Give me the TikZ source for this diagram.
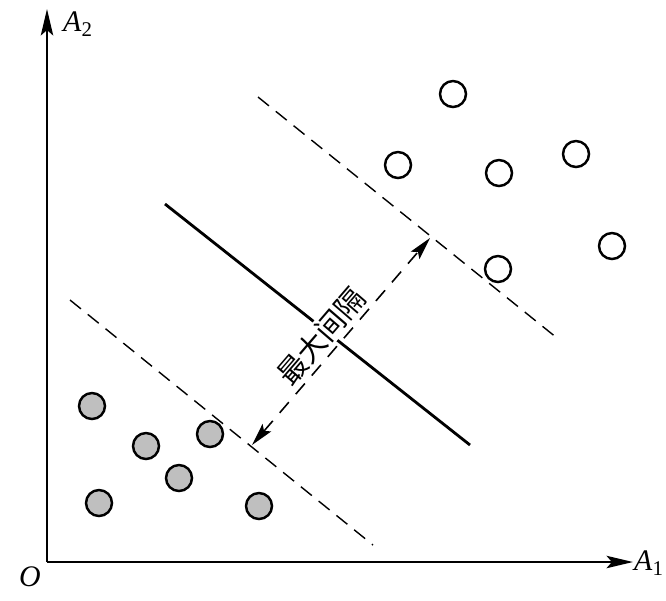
\documentclass[tikz,border=0pt]{standalone}
\usepackage{fontspec}
\setmainfont{Liberation Serif}
\newfontfamily\cjk{Noto Sans CJK SC}
\usetikzlibrary{arrows.meta}
\tikzset{svmpanel/.style={
  x=0.02cm, y=-0.02cm,
  axis/.style={line width=1.5pt, -{Stealth[length=15pt,width=7pt,inset=3pt]}},
  hyper/.style={line width=1.6pt},
  margin/.style={line width=0.8pt, dash pattern=on 8pt off 5pt},
  gap/.style={line width=0.9pt, dash pattern=on 8pt off 6pt,
    {Stealth[length=13pt,width=6.5pt,inset=2.5pt]}-{Stealth[length=13pt,width=6.5pt,inset=2.5pt]}},
  possample/.style={circle, draw, line width=1.4pt, minimum size=0.52cm, inner sep=0pt},
  negsample/.style={possample, fill=black!25},
  axlab/.style={font=\fontsize{17}{20}\selectfont},
  gaptext/.style={rotate=49.3, fill=white, inner sep=1pt, font=\cjk\fontsize{16.5}{18}\selectfont},
}}

\begin{document}
\begin{tikzpicture}[svmpanel]
\useasboundingbox (0,0) rectangle (666,600);

% =====================================================================
% axes
% =====================================================================
\coordinate (O) at (47,562);
\coordinate (ytop) at (47,9);
\coordinate (xend) at (633,562);
\draw[axis] (O) -- (ytop);
\draw[axis] (O) -- (xend);
\node[axlab] (lo) at (30,577) {\textit{O}};
\node[axlab] (la2) at (78,24) {\textit{A}\textsubscript{2}};
\node[axlab] (la1) at (649,563) {\textit{A}\textsubscript{1}};

% =====================================================================
% separating line and margins
% =====================================================================
\coordinate (h1) at (165,204);
\coordinate (h2) at (470,445);
\coordinate (u1) at (258,97);
\coordinate (u2) at (557,338);
\coordinate (d1) at (70,300);
\coordinate (d2) at (373,545);
\draw[hyper] (h1) -- (h2);
\draw[margin] (u1) -- (u2);
\draw[margin] (d1) -- (d2);

\node[gaptext] (gaplab) at (321,336) {最大间隔};
\coordinate (gapdn) at (252,445);
\coordinate (gapup) at (430,238);
\draw[gap] (gapdn) -- (gapup);

% =====================================================================
% samples
% =====================================================================
\foreach \n/\px/\py in {a/453/94, b/398/165, c/499/173, d/576/154, e/612/246, f/498/269}
  \node[possample] (p\n) at (\px,\py) {};
\foreach \n/\px/\py in {a/92/406, b/146/446, c/210/434, d/179/478, e/99/503, f/259/506}
  \node[negsample] (n\n) at (\px,\py) {};

\end{tikzpicture}
\end{document}
